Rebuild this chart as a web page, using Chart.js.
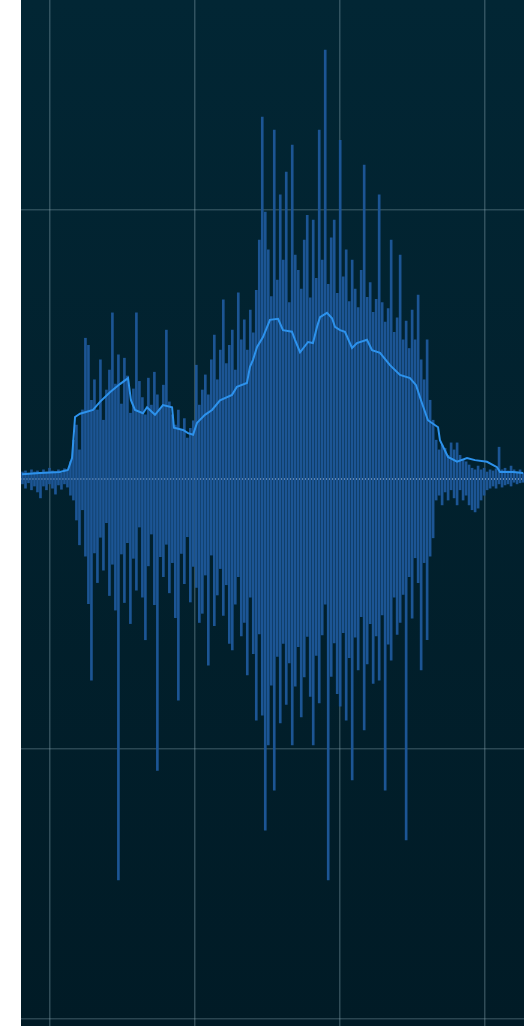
<!DOCTYPE html>
<html>
<head>
<meta charset="utf-8">
<title>Waveform</title>
<script src="https://cdn.jsdelivr.net/npm/chart.js@4/dist/chart.umd.min.js"></script>
<style>
  html, body { margin: 0; padding: 0; background: #ffffff; }
  #wrap { width: 528px; height: 1026px; }
</style>
</head>
<body>
<div id="wrap"><canvas id="wave" width="528" height="1026"></canvas></div>
<script>
// Frame timing of the min/max waveform columns (seconds)
const firstFrame = -0.19;
const frameStep = 0.0207;

// Per-frame peak maximum (upper edge of each column)
const peakHigh = [
  0.013, 0.015, 0.011, 0.017, 0.013, 0.015, 0.011, 0.017, 0.013, 0.020,
  0.015, 0.013, 0.017, 0.011, 0.019, 0.015, 0.032, 0.072, 0.100, 0.054,
  0.128, 0.261, 0.248, 0.146, 0.184, 0.128, 0.221, 0.109, 0.165, 0.202,
  0.308, 0.176, 0.230, 0.139, 0.224, 0.191, 0.122, 0.167, 0.308, 0.181,
  0.151, 0.119, 0.187, 0.137, 0.198, 0.156, 0.131, 0.174, 0.276, 0.143,
  0.119, 0.100, 0.128, 0.091, 0.112, 0.076, 0.094, 0.108, 0.211, 0.137,
  0.165, 0.193, 0.156, 0.221, 0.267, 0.184, 0.239, 0.332, 0.214, 0.248,
  0.276, 0.202, 0.345, 0.258, 0.295, 0.239, 0.313, 0.271, 0.350, 0.443,
  0.671, 0.495, 0.425, 0.338, 0.647, 0.369, 0.527, 0.406, 0.569, 0.327,
  0.619, 0.415, 0.387, 0.352, 0.443, 0.489, 0.336, 0.480, 0.372, 0.647,
  0.406, 0.795, 0.361, 0.447, 0.480, 0.344, 0.628, 0.375, 0.425, 0.329,
  0.406, 0.352, 0.318, 0.387, 0.582, 0.337, 0.364, 0.309, 0.333, 0.527,
  0.327, 0.291, 0.316, 0.443, 0.272, 0.299, 0.415, 0.258, 0.293, 0.242,
  0.313, 0.258, 0.341, 0.221, 0.184, 0.258, 0.146, 0.109, 0.072, 0.054,
  0.063, 0.057, 0.044, 0.067, 0.054, 0.067, 0.044, 0.035, 0.032, 0.026,
  0.020, 0.017, 0.024, 0.017, 0.020, 0.013, 0.017, 0.015, 0.019, 0.059,
  0.017, 0.020, 0.015, 0.024, 0.017, 0.013, 0.017, 0.011
];

// Per-frame peak minimum (lower edge of each column)
const peakLow = [
  -0.009, -0.017, -0.007, -0.020, -0.013, -0.024, -0.035, -0.013, -0.020, -0.009,
  -0.017, -0.028, -0.011, -0.019, -0.009, -0.015, -0.030, -0.039, -0.076, -0.122,
  -0.057, -0.143, -0.231, -0.373, -0.137, -0.192, -0.108, -0.169, -0.081, -0.216,
  -0.158, -0.243, -0.743, -0.139, -0.229, -0.118, -0.268, -0.147, -0.206, -0.089,
  -0.219, -0.298, -0.161, -0.102, -0.233, -0.540, -0.144, -0.181, -0.121, -0.211,
  -0.155, -0.257, -0.410, -0.138, -0.194, -0.107, -0.228, -0.162, -0.201, -0.266,
  -0.249, -0.178, -0.345, -0.141, -0.272, -0.215, -0.166, -0.253, -0.196, -0.305,
  -0.317, -0.232, -0.181, -0.291, -0.266, -0.363, -0.219, -0.324, -0.447, -0.287,
  -0.438, -0.651, -0.493, -0.382, -0.577, -0.329, -0.452, -0.305, -0.418, -0.341,
  -0.493, -0.384, -0.311, -0.441, -0.367, -0.292, -0.403, -0.493, -0.327, -0.415,
  -0.289, -0.232, -0.743, -0.366, -0.304, -0.398, -0.421, -0.285, -0.447, -0.331,
  -0.558, -0.293, -0.354, -0.255, -0.465, -0.343, -0.268, -0.379, -0.291, -0.373,
  -0.252, -0.577, -0.306, -0.336, -0.219, -0.288, -0.266, -0.214, -0.669, -0.181,
  -0.258, -0.146, -0.192, -0.354, -0.155, -0.298, -0.143, -0.109, -0.039, -0.030,
  -0.048, -0.024, -0.039, -0.020, -0.035, -0.048, -0.020, -0.039, -0.030, -0.048,
  -0.057, -0.061, -0.054, -0.039, -0.030, -0.020, -0.017, -0.013, -0.017, -0.009,
  -0.015, -0.011, -0.009, -0.013, -0.006, -0.009, -0.007, -0.006
];

// Running peak envelope: time (s) and level
const envTime = [
  -0.193, -0.069, 0.069, 0.124, 0.152, 0.173, 0.207, 0.297, 0.345, 0.414,
  0.483, 0.539, 0.559, 0.587, 0.642, 0.670, 0.725, 0.780, 0.843, 0.856,
  0.919, 0.953, 0.988, 1.015, 1.070, 1.119, 1.174, 1.257, 1.291, 1.360,
  1.381, 1.402, 1.430, 1.471, 1.519, 1.575, 1.609, 1.671, 1.692, 1.727,
  1.782, 1.816, 1.844, 1.865, 1.913, 1.948, 1.968, 2.003, 2.037, 2.086,
  2.120, 2.189, 2.224, 2.279, 2.348, 2.417, 2.486, 2.528, 2.562, 2.610,
  2.680, 2.693, 2.749, 2.811, 2.880, 2.935, 3.018, 3.087, 3.108, 3.197,
  3.267
];
const envLevel = [
  0.009, 0.011, 0.013, 0.017, 0.039, 0.115, 0.121, 0.128, 0.143, 0.161,
  0.176, 0.187, 0.146, 0.128, 0.122, 0.133, 0.119, 0.137, 0.133, 0.095,
  0.091, 0.085, 0.082, 0.104, 0.119, 0.128, 0.146, 0.156, 0.171, 0.178,
  0.208, 0.221, 0.245, 0.263, 0.295, 0.297, 0.276, 0.273, 0.258, 0.235,
  0.254, 0.252, 0.282, 0.300, 0.308, 0.298, 0.282, 0.276, 0.273, 0.243,
  0.252, 0.258, 0.239, 0.234, 0.211, 0.193, 0.187, 0.174, 0.146, 0.109,
  0.096, 0.072, 0.041, 0.032, 0.039, 0.035, 0.032, 0.022, 0.013, 0.013,
  0.011
];

// Axis ranges and grid positions
const timeRange = [-0.2003, 3.2735];
const levelRange = [-1.014, 0.888];
const timeTicks = [0, 1, 2, 3];
const levelTicks = [0.5, 0, -0.5, -1];

const columns = peakHigh.map((hi, i) => ({ x: firstFrame + i * frameStep, y: [peakLow[i], hi] }));
const envelope = envTime.map((t, i) => ({ x: t, y: envLevel[i] }));

// Dark gradient behind the plot area
const plotBackground = {
  id: 'plotBackground',
  beforeDraw(chart) {
    const { ctx, chartArea: a } = chart;
    const g = ctx.createLinearGradient(0, a.top, 0, a.bottom);
    g.addColorStop(0, '#022634');
    g.addColorStop(1, '#011b26');
    ctx.save();
    ctx.fillStyle = g;
    ctx.fillRect(a.left, a.top, a.right - a.left, a.bottom - a.top);
    ctx.restore();
  }
};

new Chart(document.getElementById('wave'), {
  type: 'bar',
  data: {
    datasets: [
      {
        type: 'line',
        label: 'Envelope',
        data: envelope,
        borderColor: '#2d92ec',
        borderWidth: 2,
        pointRadius: 0,
        tension: 0,
        fill: false,
        order: 0
      },
      {
        type: 'bar',
        label: 'Waveform',
        data: columns,
        backgroundColor: '#1c5594',
        borderWidth: 0,
        barThickness: 2,
        order: 1
      }
    ]
  },
  plugins: [plotBackground],
  options: {
    responsive: false,
    devicePixelRatio: 1,
    animation: false,
    layout: { padding: { left: 21, right: 4, top: 0, bottom: 0 } },
    plugins: { legend: { display: false }, tooltip: { enabled: false } },
    scales: {
      x: {
        type: 'linear',
        offset: false,
        min: timeRange[0],
        max: timeRange[1],
        afterBuildTicks(scale) { scale.ticks = timeTicks.map(v => ({ value: v })); },
        ticks: { display: false },
        border: { display: false },
        grid: { offset: false, color: 'rgba(140,170,180,0.35)', lineWidth: 1.5, drawTicks: false }
      },
      y: {
        type: 'linear',
        min: levelRange[0],
        max: levelRange[1],
        afterBuildTicks(scale) { scale.ticks = levelTicks.map(v => ({ value: v })); },
        ticks: { display: false },
        border: { display: false },
        grid: {
          drawTicks: false,
          color: ctx => ctx.tick && ctx.tick.value === 0 ? '#c9cbc6' : 'rgba(140,170,180,0.3)',
          lineWidth: ctx => ctx.tick && ctx.tick.value === 0 ? 2 : 1.5
        }
      }
    }
  }
});
</script>
</body>
</html>
